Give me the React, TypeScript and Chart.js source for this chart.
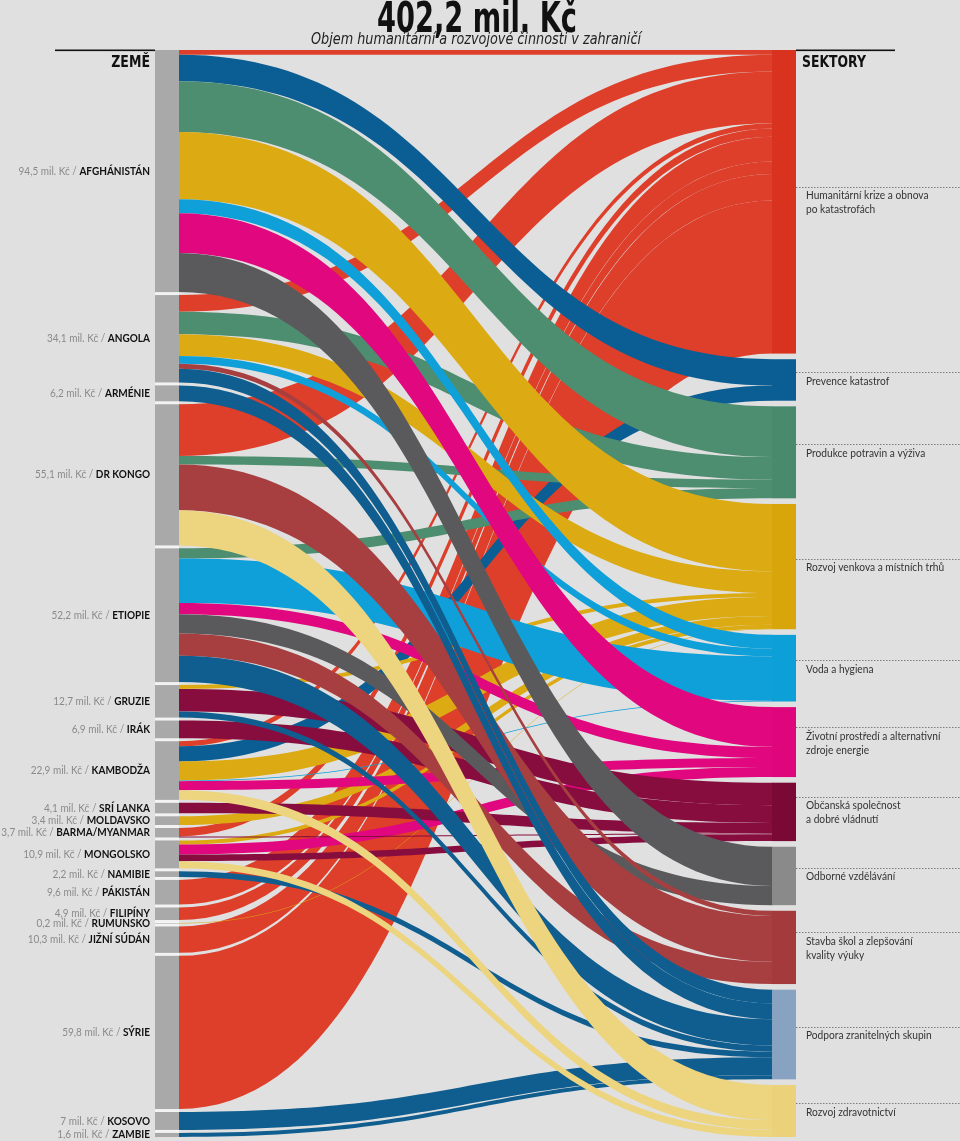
import React, { useEffect, useRef } from "react";
import { Chart, registerables } from "chart.js";

Chart.register(...registerables);

// ---------- DATA ----------
const countries = [
  "AFGHÁNISTÁN", "ANGOLA", "ARMÉNIE", "DR KONGO", "ETIOPIE", "GRUZIE", "IRÁK",
  "KAMBODŽA", "SRÍ LANKA", "MOLDAVSKO", "BARMA/MYANMAR", "MONGOLSKO", "NAMIBIE",
  "PÁKISTÁN", "FILIPÍNY", "RUMUNSKO", "JIŽNÍ SÚDÁN", "SÝRIE", "KOSOVO", "ZAMBIE",
];
const countryValues = [
  94.5, 34.1, 6.2, 55.1, 52.2, 12.7, 6.9, 22.9, 4.1, 3.4, 3.7, 10.9, 2.2, 9.6, 4.9,
  0.2, 10.3, 59.8, 7, 1.6,
];

const sectorLabels: string[][] = [
  ["Humanitární krize a obnova", "po katastrofách"],
  ["Prevence katastrof"],
  ["Produkce potravin a výživa"],
  ["Rozvoj venkova a místních trhů"],
  ["Voda a hygiena"],
  ["Životní prostředí a alternativní", "zdroje energie"],
  ["Občanská společnost", "a dobré vládnutí"],
  ["Odborné vzdělávání"],
  ["Stavba škol a zlepšování", "kvality výuky"],
  ["Podpora zranitelných skupin"],
  ["Rozvoj zdravotnictví"],
];

// [country index, sector index, mil. Kč]
const flows: [number, number, number][] = [
  [0, 0, 1.9], [0, 1, 10.3], [0, 2, 19.8], [0, 3, 26.3], [0, 4, 5.4], [0, 5, 15.5], [0, 7, 15.3],
  [1, 0, 6.5], [1, 2, 8.8], [1, 3, 8.5], [1, 4, 3.0], [1, 8, 2.0], [1, 9, 5.3],
  [2, 9, 6.2],
  [3, 0, 20.2], [3, 2, 3.3], [3, 8, 17.9], [3, 10, 13.7],
  [4, 2, 4.0], [4, 4, 17.3], [4, 5, 4.4], [4, 7, 7.5], [4, 8, 8.7], [4, 9, 10.3],
  [5, 3, 1.5], [5, 6, 8.8], [5, 9, 2.4],
  [6, 6, 6.9],
  [7, 0, 2.0], [7, 1, 5.9], [7, 3, 7.4], [7, 4, 0.3], [7, 5, 3.5], [7, 10, 3.8],
  [8, 6, 4.1],
  [9, 3, 3.4],
  [10, 0, 3.3], [10, 6, 0.4],
  [11, 3, 1.6], [11, 5, 3.9], [11, 6, 2.6], [11, 10, 2.8],
  [12, 9, 2.2],
  [13, 0, 9.6],
  [14, 0, 4.9],
  [15, 3, 0.2],
  [16, 0, 10.3],
  [17, 0, 59.8],
  [18, 9, 7.0],
  [19, 9, 1.6],
];

const titleText = "402,2 mil. Kč";
const subtitleText = "Objem humanitární a rozvojové činnosti v zahraničí";

// ---------- STYLE ----------
const BG = "#e0e0e0";
const flowColors = [
  "#dd3f2b", "#0a5e93", "#4e8e70", "#dcaa12", "#0fa0d9", "#e1077e",
  "#880d3f", "#5a5a5c", "#a73f41", "#0f5e8f", "#edd47f",
];
const nodeColors = [
  "#d9331f", "#0a5e93", "#4a8a6c", "#d8a60b", "#0d9fd8", "#df067c",
  "#7a0935", "#8a8a8a", "#a43a3c", "#88a2c2", "#ead17a",
];
const SANS = 'Lato, "Open Sans", "Noto Sans", sans-serif';
const COND = '"Liberation Sans Narrow", "DejaVu Sans Condensed", "Roboto Condensed", Roboto, sans-serif';

const W = 960;
const H = 1141;
const TOP = 50;
const BOTTOM = 1137;
const LBAR_X0 = 155;
const FLOW_X0 = 179;
const FLOW_X1 = 772;
const RBAR_X1 = 796;
const GAP_R = 2.2; // value units between sector nodes

function fmt(v: number) {
  return v.toString().replace(".", ",");
}

function squeezedText(
  ctx: CanvasRenderingContext2D,
  text: string,
  x: number,
  y: number,
  sx: number
) {
  ctx.save();
  ctx.translate(x, y);
  ctx.scale(sx, 1);
  ctx.fillText(text, 0, 0);
  ctx.restore();
}

const sankeyPlugin = {
  id: "sankeyPlugin",
  beforeDraw(chart: any) {
    const ctx = chart.ctx as CanvasRenderingContext2D;
    ctx.save();
    ctx.fillStyle = BG;
    ctx.fillRect(0, 0, chart.width, chart.height);
    ctx.restore();
  },
  afterDraw(chart: any) {
    const ctx = chart.ctx as CanvasRenderingContext2D;
    const xs = chart.scales.x;
    const ys = chart.scales.y;
    const X = (v: number) => xs.getPixelForValue(v);
    const Y = (v: number) => ys.getPixelForValue(v);

    const nC = countries.length;
    const nS = sectorLabels.length;
    const sectorTotals = new Array(nS).fill(0);
    flows.forEach(([, s, v]) => (sectorTotals[s] += v));
    const totalR = sectorTotals.reduce((a, b) => a + b, 0);
    const span = totalR + GAP_R * (nS - 1);
    const totalL = countryValues.reduce((a, b) => a + b, 0);
    const gapL = (span - totalL) / (nC - 1);

    const cTop: number[] = [];
    let acc = 0;
    for (let i = 0; i < nC; i++) {
      cTop.push(acc);
      acc += countryValues[i] + gapL;
    }
    const sTop: number[] = [];
    acc = 0;
    for (let j = 0; j < nS; j++) {
      sTop.push(acc);
      acc += sectorTotals[j] + GAP_R;
    }

    const srcOff = new Array(nC).fill(0);
    const tgtOff = new Array(nS).fill(0);
    const bySrc = flows.map((f, i) => ({ f, i })).sort((a, b) => a.f[0] - b.f[0] || a.f[1] - b.f[1]);
    const srcY: number[] = [];
    bySrc.forEach(({ f, i }) => {
      srcY[i] = cTop[f[0]] + srcOff[f[0]];
      srcOff[f[0]] += f[2];
    });
    const byTgt = flows.map((f, i) => ({ f, i })).sort((a, b) => a.f[1] - b.f[1] || a.f[0] - b.f[0]);
    const tgtY: number[] = [];
    byTgt.forEach(({ f, i }) => {
      tgtY[i] = sTop[f[1]] + tgtOff[f[1]];
      tgtOff[f[1]] += f[2];
    });

    ctx.save();

    // left bar (white separators between countries)
    ctx.fillStyle = "#f3f3f3";
    ctx.fillRect(X(LBAR_X0), Y(0), X(FLOW_X0) - X(LBAR_X0), Y(span) - Y(0));
    ctx.fillStyle = "#a9a9aa";
    for (let i = 0; i < nC; i++) {
      const y0 = Y(cTop[i]);
      const y1 = Y(cTop[i] + countryValues[i]);
      ctx.fillRect(X(LBAR_X0), y0, X(FLOW_X0) - X(LBAR_X0), y1 - y0);
    }

    // flows, drawn by target order
    const x0 = X(FLOW_X0);
    const x1 = X(FLOW_X1);
    const xm = (x0 + x1) / 2;
    byTgt.forEach(({ f, i }) => {
      const s0 = Y(srcY[i]);
      const s1 = Y(srcY[i] + f[2]);
      const t0 = Y(tgtY[i]);
      const t1 = Y(tgtY[i] + f[2]);
      ctx.fillStyle = flowColors[f[1]];
      ctx.beginPath();
      ctx.moveTo(x0, s0);
      ctx.bezierCurveTo(xm, s0, xm, t0, x1 + 0.5, t0);
      ctx.lineTo(x1 + 0.5, t1);
      ctx.bezierCurveTo(xm, t1, xm, s1, x0, s1);
      ctx.closePath();
      ctx.fill();
    });

    // right nodes
    for (let j = 0; j < nS; j++) {
      const y0 = Y(sTop[j]);
      const y1 = Y(sTop[j] + sectorTotals[j]);
      ctx.fillStyle = nodeColors[j];
      ctx.fillRect(x1, y0, X(RBAR_X1) - x1, y1 - y0);
    }

    // header lines
    ctx.fillStyle = "#111";
    ctx.fillRect(55, 49.5, X(LBAR_X0) - 55, 1.6);
    ctx.fillRect(X(RBAR_X1), 49.5, 895 - X(RBAR_X1), 1.6);

    // title & subtitle
    ctx.textAlign = "center";
    ctx.textBaseline = "alphabetic";
    ctx.fillStyle = "#111";
    ctx.font = `bold 43px ${COND}`;
    let tw = ctx.measureText(titleText).width;
    squeezedText(ctx, titleText, 477, 32, 200 / tw);
    ctx.font = `italic 15px ${COND}`;
    ctx.fillStyle = "#222";
    tw = ctx.measureText(subtitleText).width;
    squeezedText(ctx, subtitleText, 476, 44, 330 / tw);

    // column headers
    ctx.font = `bold 15px ${COND}`;
    ctx.fillStyle = "#111";
    ctx.textBaseline = "middle";
    ctx.textAlign = "right";
    squeezedText(ctx, "ZEMĚ", 150, 63, 0.93);
    ctx.textAlign = "left";
    squeezedText(ctx, "SEKTORY", 802, 63, 0.92);

    // left labels
    const LS = 0.91;
    for (let i = 0; i < nC; i++) {
      const yc = Y(cTop[i] + countryValues[i] / 2);
      ctx.textAlign = "right";
      ctx.font = `bold 11px ${SANS}`;
      ctx.fillStyle = "#111";
      const nameW = ctx.measureText(countries[i]).width * LS;
      squeezedText(ctx, countries[i], 150, yc, LS);
      ctx.font = `11px ${SANS}`;
      ctx.fillStyle = "#8a8a8a";
      squeezedText(ctx, `${fmt(countryValues[i])} mil. Kč / `, 150 - nameW, yc, LS);
    }

    // right labels
    ctx.textAlign = "left";
    for (let j = 0; j < nS; j++) {
      const yc = Y(sTop[j] + sectorTotals[j] / 2);
      const lines = sectorLabels[j];
      const first = yc + 1 - (lines.length - 1) * 7;
      const dy = Math.round(first - 9) + 0.5;
      ctx.save();
      ctx.strokeStyle = "#7d7d7d";
      ctx.lineWidth = 1;
      ctx.setLineDash([1.5, 1.5]);
      ctx.beginPath();
      ctx.moveTo(X(RBAR_X1), dy);
      ctx.lineTo(W, dy);
      ctx.stroke();
      ctx.restore();
      ctx.font = `11px ${SANS}`;
      ctx.fillStyle = "#333";
      lines.forEach((t, k) => squeezedText(ctx, t, 806, first + k * 14, 0.925));
    }

    ctx.restore();
  },
};

export default function App() {
  const ref = useRef<HTMLCanvasElement>(null);
  useEffect(() => {
    if (!ref.current) return;
    const nS = sectorLabels.length;
    const totalR = flows.reduce((a, f) => a + f[2], 0);
    const span = totalR + GAP_R * (nS - 1);
    const chart = new Chart(ref.current, {
      type: "scatter",
      data: { datasets: [{ data: [] }] },
      options: {
        animation: false,
        responsive: false,
        maintainAspectRatio: false,
        layout: { padding: { top: TOP, bottom: H - BOTTOM, left: 0, right: 0 } },
        scales: {
          x: { type: "linear", min: 0, max: W, display: false },
          y: { type: "linear", min: 0, max: span, reverse: true, display: false },
        },
        plugins: { legend: { display: false }, tooltip: { enabled: false } },
      },
      plugins: [sankeyPlugin],
    } as any);
    return () => chart.destroy();
  }, []);
  return (
    <div style={{ position: "absolute", left: 0, top: 0, width: W, height: H, background: BG }}>
      <canvas ref={ref} width={W} height={H} style={{ display: "block", width: W, height: H }} />
    </div>
  );
}
